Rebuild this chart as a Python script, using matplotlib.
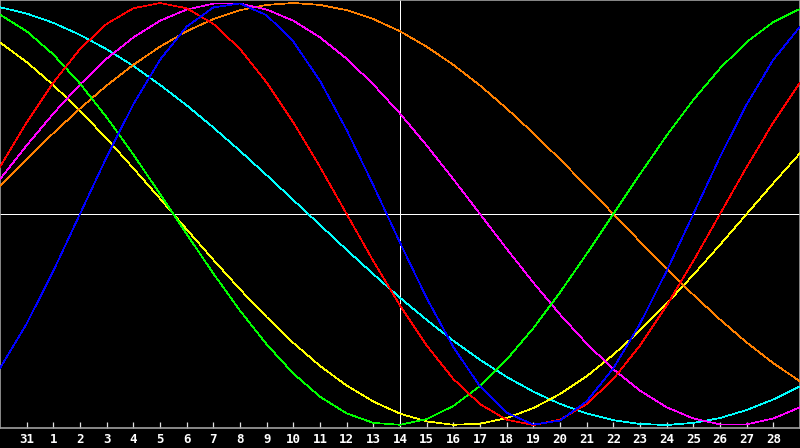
import matplotlib
matplotlib.use('Agg')
import matplotlib.pyplot as plt

# day labels along the bottom (31 of previous month, then 1..28)
day_labels = ['31'] + [str(d) for d in range(1, 29)]

# cycle values, one per day position 0..30
blue = [-0.731, -0.520, -0.270, 0.000, 0.270, 0.520, 0.731, 0.888, 0.979, 0.998,
        0.942, 0.817, 0.631, 0.398, 0.136, -0.136, -0.398, -0.631, -0.817, -0.942,
        -0.998, -0.979, -0.888, -0.731, -0.520, -0.270, 0.000, 0.270, 0.520, 0.731,
        0.888]
red = [0.223, 0.434, 0.623, 0.782, 0.901, 0.975, 1.000, 0.975, 0.901, 0.782,
       0.623, 0.434, 0.223, 0.000, -0.223, -0.434, -0.623, -0.782, -0.901, -0.975,
       -1.000, -0.975, -0.901, -0.782, -0.623, -0.434, -0.223, 0.000, 0.223, 0.434,
       0.623]
green = [0.945, 0.866, 0.756, 0.618, 0.458, 0.282, 0.095, -0.095, -0.282, -0.458,
         -0.618, -0.756, -0.866, -0.945, -0.990, -0.999, -0.972, -0.910, -0.815, -0.690,
         -0.541, -0.372, -0.189, 0.000, 0.189, 0.372, 0.541, 0.690, 0.815, 0.910,
         0.972]
magenta = [0.165, 0.325, 0.476, 0.614, 0.736, 0.837, 0.916, 0.969, 0.997, 0.997,
           0.969, 0.916, 0.837, 0.736, 0.614, 0.476, 0.325, 0.165, 0.000, -0.165,
           -0.325, -0.476, -0.614, -0.736, -0.837, -0.916, -0.969, -0.997, -0.997, -0.969,
           -0.916]
yellow = [0.813, 0.720, 0.611, 0.489, 0.357, 0.217, 0.073, -0.073, -0.217, -0.357,
          -0.489, -0.611, -0.720, -0.813, -0.889, -0.946, -0.983, -0.999, -0.994, -0.967,
          -0.920, -0.853, -0.769, -0.667, -0.552, -0.425, -0.288, -0.146, 0.000, 0.146,
          0.288]
orange = [0.131, 0.259, 0.383, 0.500, 0.609, 0.707, 0.793, 0.866, 0.924, 0.966,
          0.991, 1.000, 0.991, 0.966, 0.924, 0.866, 0.793, 0.707, 0.609, 0.500,
          0.383, 0.259, 0.131, 0.000, -0.131, -0.259, -0.383, -0.500, -0.609, -0.707,
          -0.793]
cyan = [0.980, 0.950, 0.906, 0.849, 0.781, 0.702, 0.612, 0.515, 0.410, 0.299,
        0.184, 0.066, -0.052, -0.170, -0.285, -0.397, -0.502, -0.601, -0.691, -0.772,
        -0.842, -0.900, -0.945, -0.977, -0.995, -1.000, -0.990, -0.967, -0.929, -0.879,
        -0.817]

series = [
    (cyan, '#00ffff'),
    (yellow, '#ffff00'),
    (orange, '#ff8000'),
    (magenta, '#ff00ff'),
    (green, '#00ff00'),
    (red, '#ff0000'),
    (blue, '#0000ff'),
]

fig = plt.figure(figsize=(8, 4.48), dpi=100, facecolor='black')
ax = fig.add_axes([0, 20 / 448, 1, 428 / 448], facecolor='black')

days = list(range(len(blue)))
for vals, col in series:
    ax.plot(days, vals, color=col, lw=0.5, antialiased=False, zorder=3)

# centre cross
ax.axhline(0, color='white', lw=0.72, zorder=2)
ax.axvline(15, color='white', lw=0.72, zorder=2)

ax.set_xlim(0, 30)
ax.set_ylim(-214 / 211, 214 / 211)
ax.set_yticks([])
ax.set_xticks(range(1, 30))
ax.set_xticklabels(day_labels)
ax.tick_params(axis='x', direction='in', length=4, width=0.9, color='#e0e0e0',
               labelcolor='white', labelsize=9, pad=3.5)
for lab in ax.get_xticklabels():
    lab.set_fontweight('bold')
    lab.set_family('DejaVu Sans Mono')
for sp in ax.spines.values():
    sp.set_color('#a0a0a0')
    sp.set_linewidth(1.2)

fig.savefig('out.png', dpi=100, facecolor='black')
